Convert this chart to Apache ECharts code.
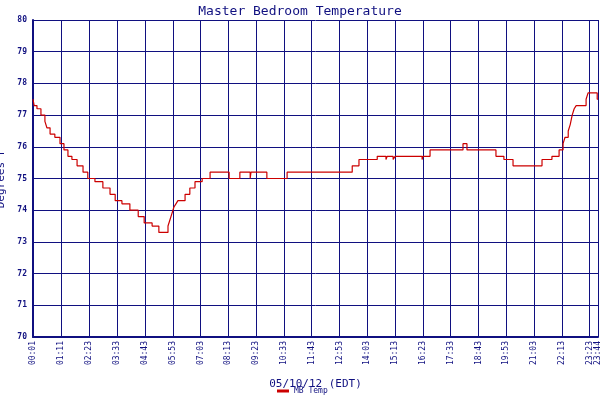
<!DOCTYPE html>
<html><head><meta charset="utf-8">
<script src="https://cdn.jsdelivr.net/npm/echarts@6/dist/echarts.min.js"></script>
<style>html,body{margin:0;background:#fff}#c{width:600px;height:400px}</style>
</head><body><div id="c"></div>
<script>
const minutes = [1,4,11,21,31,36,44,56,69,79,89,99,112,127,139,157,177,195,208,225,245,266,281,301,318,341,346,351,356,361,366,384,396,409,427,447,495,522,548,550,590,641,805,822,868,890,893,908,913,981,983,1001,1084,1094,1167,1187,1210,1283,1308,1326,1336,1341,1349,1354,1359,1364,1369,1374,1394,1399,1422,1424];
const temps = [77.5,77.3,77.2,77.0,76.8,76.6,76.4,76.3,76.1,75.9,75.7,75.6,75.4,75.2,75.0,74.9,74.7,74.5,74.3,74.2,74.0,73.8,73.6,73.5,73.3,73.5,73.7,73.9,74.1,74.2,74.3,74.5,74.7,74.9,75.0,75.2,75.0,75.2,75.0,75.2,75.0,75.2,75.4,75.6,75.7,75.6,75.7,75.6,75.7,75.6,75.7,75.9,76.1,75.9,75.7,75.6,75.4,75.6,75.7,75.9,76.1,76.3,76.5,76.7,77.0,77.2,77.3,77.3,77.5,77.7,77.5,77.5];
const tickMinutes = [1,71,143,213,283,353,423,493,563,633,703,773,843,913,983,1053,1123,1193,1263,1333,1403,1424];
const tickLabels = ["00:01","01:11","02:23","03:33","04:43","05:53","07:03","08:13","09:23","10:33","11:43","12:53","14:03","15:13","16:23","17:33","18:43","19:53","21:03","22:13","23:23","23:44"];
const navy = '#101080', font = 'DejaVu Sans Mono';
const chart = echarts.init(document.getElementById('c'));
chart.setOption({
  animation:false, backgroundColor:'#fff',
  title:{text:'Master Bedroom Temperature',left:'center',top:0,textStyle:{color:navy,fontFamily:font,fontSize:13,fontWeight:'normal'}},
  legend:{bottom:0,left:272,itemWidth:12,itemHeight:3,itemGap:4,textStyle:{fontFamily:font,fontSize:8,color:navy},data:[{name:'MB Temp',icon:'rect'}]},
  grid:{left:33,right:2,top:20,bottom:63,containLabel:false,outerBoundsMode:'none'},
  xAxis:{type:'value',min:1,max:1424,name:'05/10/12 (EDT)',nameLocation:'middle',nameGap:42,
    nameTextStyle:{color:navy,fontFamily:font,fontSize:11},
    axisLine:{show:true,lineStyle:{color:navy,width:2}},axisTick:{show:false},splitLine:{show:false},
    axisLabel:{customValues:tickMinutes,formatter:v=>tickLabels[tickMinutes.indexOf(v)]||'',rotate:90,color:navy,fontFamily:font,fontSize:8,margin:4}},
  yAxis:{type:'value',min:70,max:80,interval:1,name:'Degrees F',nameLocation:'middle',nameGap:22,
    nameTextStyle:{color:navy,fontFamily:font,fontSize:11},
    axisLine:{show:true,lineStyle:{color:navy,width:2}},axisTick:{show:false},
    splitLine:{lineStyle:{color:navy,width:1}},
    axisLabel:{color:navy,fontFamily:font,fontSize:8,fontWeight:'bold',margin:6}},
  series:[
    {name:'MB Temp',type:'line',step:'end',symbol:'none',z:5,data:minutes.map((m,i)=>[m,temps[i]]),
     lineStyle:{color:'#cc0000',width:1.2},itemStyle:{color:'#cc0000'}},
    {name:'grid',type:'line',data:[],z:1,
     markLine:{silent:true,symbol:'none',z:1,label:{show:false},lineStyle:{color:navy,width:1,type:'solid'},
       data:tickMinutes.map(m=>({xAxis:m}))}}
  ]
});
</script></body></html>
